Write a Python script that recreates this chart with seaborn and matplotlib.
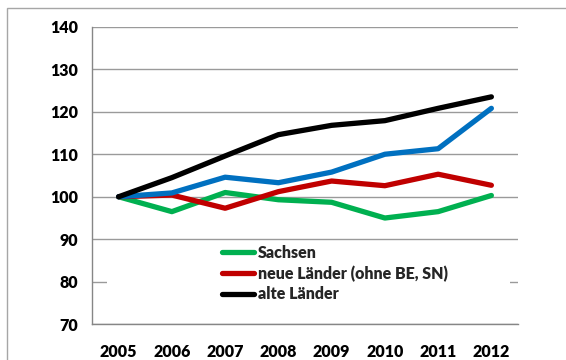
import matplotlib
matplotlib.use("Agg")
import matplotlib.pyplot as plt
import matplotlib.transforms as mtransforms
from matplotlib.patches import Rectangle
from matplotlib.ticker import FixedLocator
import numpy as np
import pandas as pd
import seaborn as sns

# Index 2005 = 100
years = ["2005", "2006", "2007", "2008", "2009", "2010", "2011", "2012"]
sachsen = [100, 96.5, 101.0, 99.3, 98.7, 95.0, 96.5, 100.3]
neue_laender = [100, 100.4, 97.3, 101.2, 103.7, 102.6, 105.3, 102.7]
deutschland = [100, 100.9, 104.6, 103.3, 105.8, 110.0, 111.3, 120.8]
alte_laender = [100, 104.5, 109.6, 114.6, 116.8, 117.9, 120.8, 123.5]

series_names = ["Sachsen", "neue Länder (ohne BE, SN)", "Deutschland", "alte Länder"]
series_values = [sachsen, neue_laender, deutschland, alte_laender]
colors = ["#00B050", "#C00000", "#0070C0", "#000000"]
legend_names = ["Sachsen", "neue Länder (ohne BE, SN)", "alte Länder"]
y_ticks = [70, 80, 90, 100, 110, 120, 130, 140]

df = pd.DataFrame(
    [(i, y, n, v) for n, vals in zip(series_names, series_values)
     for i, (y, v) in enumerate(zip(years, vals))],
    columns=["pos", "Jahr", "Reihe", "Wert"],
)

sns.set_theme(style="white")
plt.rcParams["font.family"] = ["Lato", "DejaVu Sans"]
FW = "heavy"

fig = plt.figure(figsize=(5.66, 3.60), dpi=100)
ax = fig.add_axes([92 / 566, 1 - 324.3 / 360, 426 / 566, (324.3 - 26.7) / 360])

sns.lineplot(data=df, x="pos", y="Wert", hue="Reihe", hue_order=series_names,
             palette=colors, linewidth=3.8, ax=ax, legend=False, sort=False)
for line in ax.lines:
    line.set_solid_capstyle("round")
    line.set_solid_joinstyle("round")
    line.set_zorder(3)

ax.set_xlim(-0.5, 7.5)
ax.set_ylim(70, 140)
ax.set_yticks(y_ticks)
ax.set_yticklabels([str(t) for t in y_ticks], fontsize=11.5, fontweight=FW)
ax.set_xticks(range(len(years)))
ax.set_xticklabels(years, fontsize=11.5, fontweight=FW)
ax.xaxis.set_minor_locator(FixedLocator(np.arange(-0.5, 8.0, 1.0)))
ax.tick_params(axis="x", which="major", length=0, pad=14, colors="black")
ax.tick_params(axis="x", which="minor", length=6, width=1, color="#868686", direction="out")
ax.tick_params(axis="y", which="major", length=6, width=1, direction="out",
               pad=4, colors="black")
ax.tick_params(axis="y", which="major", color="#868686")
ax.set_xlabel("")
ax.set_ylabel("")

ax.grid(axis="y", color="#9a9a9a", linewidth=1)
ax.set_axisbelow(True)
for side in ["top", "right"]:
    ax.spines[side].set_visible(False)
for side in ["left", "bottom"]:
    ax.spines[side].set_color("#868686")
    ax.spines[side].set_linewidth(1)

# white legend area over the grid
trans = mtransforms.blended_transform_factory(ax.transAxes, ax.transData)
ax.add_patch(Rectangle((15 / 426, 72.8), (510 - 107) / 426, 16.2, transform=trans,
                       facecolor="white", edgecolor="none", zorder=2))

handles = [ax.lines[series_names.index(n)] for n in legend_names]
leg = fig.legend(handles, legend_names, loc="upper left",
                 bbox_to_anchor=(222 / 566, 1 - 245 / 360), frameon=False,
                 borderpad=0, borderaxespad=0, handlelength=2.0, handletextpad=0.25,
                 labelspacing=0.28, prop={"size": 11.5, "weight": FW})
for lh in leg.get_lines():
    lh.set_linewidth(3.8)

# outer chart frame
fig.patches.append(Rectangle((7 / 566, -0.1), 1.2, 1.1 - 8 / 360, transform=fig.transFigure,
                             facecolor="none", edgecolor="#a6a6a6", linewidth=1))

fig.savefig("out.png", dpi=100)
